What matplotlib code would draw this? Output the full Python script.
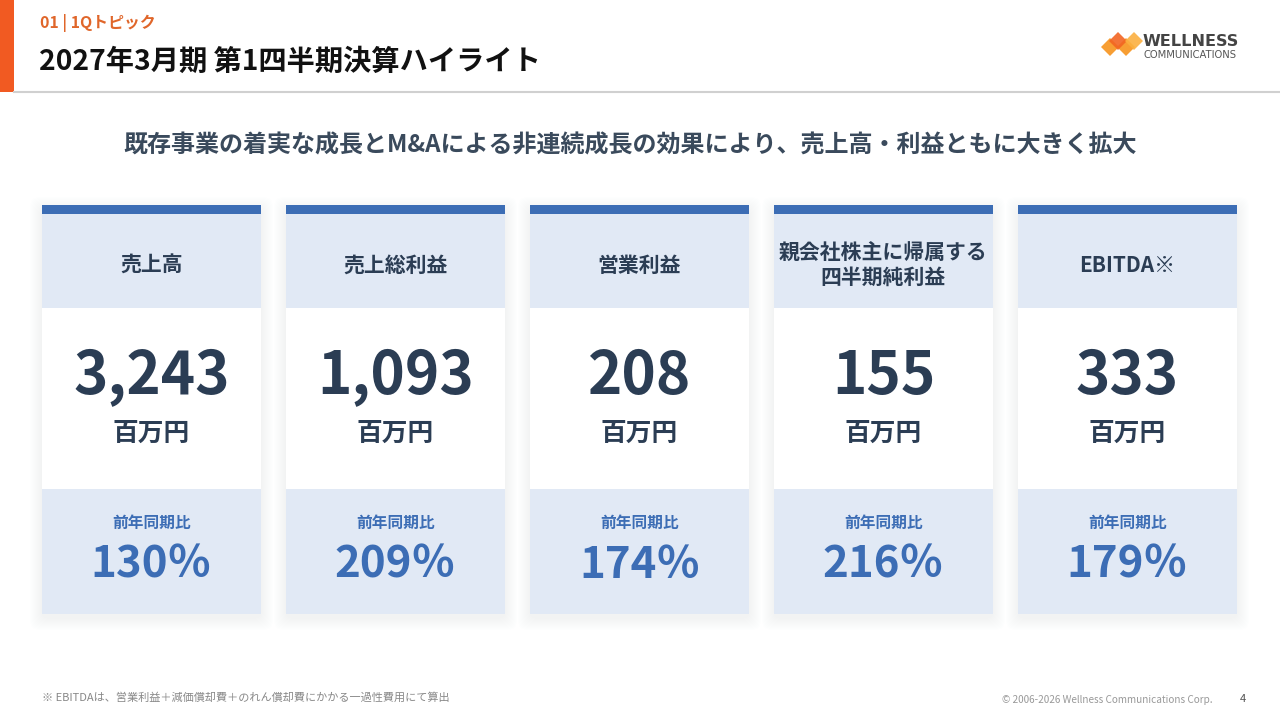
import matplotlib
matplotlib.use("Agg")
import matplotlib.pyplot as plt
import matplotlib.patches as mpatches

plt.rcParams['font.family'] = ['Noto Sans CJK JP', 'DejaVu Sans']

# data
section_label = "01 | 1Qトピック"
title = "2027年3月期 第1四半期決算ハイライト"
subtitle = "既存事業の着実な成長とM&Aによる非連続成長の効果により、売上高・利益ともに大きく拡大"
categories = ["売上高", "売上総利益", "営業利益", "親会社株主に帰属する\n四半期純利益", "EBITDA※"]
values = [3243, 1093, 208, 155, 333]
yoy_pct = [130, 209, 174, 216, 179]
unit = "百万円"
yoy_label = "前年同期比"
footnote = "※ EBITDAは、営業利益＋減価償却費＋のれん償却費にかかる一過性費用にて算出"
copyright_text = "© 2006-2026 Wellness Communications Corp."
page_no = "4"

NAVY = "#2b3d54"
BLUE = "#3c6db5"
LIGHT = "#e1e9f5"
ORANGE = "#f15a22"

fig = plt.figure(figsize=(12.8, 7.2), dpi=100)
ax = fig.add_axes([0, 0, 1, 1])
ax.set_xlim(0, 1280)
ax.set_ylim(720, 0)
ax.axis("off")

# header
ax.add_patch(mpatches.Rectangle((0, 0), 14, 92, color=ORANGE, lw=0))
ax.plot([14, 1280], [91.5, 91.5], color="#d0d0d0", lw=1.5)
ax.text(40, 23, section_label, fontsize=11.4, color="#e0662a", fontweight="bold", va="center")
ax.text(39, 62, title, fontsize=20.3, color="#111111", fontweight="bold", va="center")

# logo
for dx, dy, c in [(0, 0, "#f7941d"), (16, 0, "#f7941d"), (8, -6, "#f26522"), (24, -6, "#fbb040")]:
    cx, cy = 1110 + dx, 47 + dy
    ax.add_patch(mpatches.Polygon([(cx - 9, cy), (cx, cy - 9), (cx + 9, cy), (cx, cy + 9)],
                                  closed=True, color=c, alpha=0.9, lw=0))
ax.text(1143, 42, "WELLNESS", fontsize=11.6, color="#444444", fontweight="bold",
        family="DejaVu Sans", va="center")
ax.text(1143, 55, "COMMUNICATIONS", fontsize=7.2, color="#555555", family="DejaVu Sans", va="center")

ax.text(630, 146, subtitle, fontsize=17.3, color="#3a4a5c", fontweight="bold", ha="center", va="center")

# cards
x0, w, pitch = 42, 219, 244
top, bar_h, head_b, white_b, bottom = 205, 9, 308, 489, 614
for i, cat in enumerate(categories):
    x = x0 + i * pitch
    # soft shadow
    for k in range(12, 0, -1):
        ax.add_patch(mpatches.FancyBboxPatch((x - k, top - k + 4), w + 2 * k, bottom - top + 2 * k,
                                             boxstyle="round,pad=0,rounding_size=10",
                                             color="#a8b2c0", alpha=0.012, lw=0))
    ax.add_patch(mpatches.Rectangle((x, top + bar_h), w, head_b - top - bar_h, color=LIGHT, lw=0))
    ax.add_patch(mpatches.Rectangle((x, head_b), w, white_b - head_b, color="white", lw=0))
    ax.add_patch(mpatches.Rectangle((x, white_b), w, bottom - white_b, color=LIGHT, lw=0))
    ax.add_patch(mpatches.Rectangle((x, top), w, bar_h, color=BLUE, lw=0))
    cx = x + w / 2
    ax.text(cx, 265, cat, fontsize=15, color=NAVY, fontweight="bold", ha="center", va="center",
            linespacing=1.15)
    ax.text(cx, 377, f"{values[i]:,}", fontsize=42, color=NAVY, fontweight="bold",
            ha="center", va="center")
    ax.text(cx, 433, unit, fontsize=18.5, color=NAVY, fontweight="bold", ha="center", va="center")
    ax.text(cx, 523, yoy_label, fontsize=11.3, color=BLUE, fontweight="bold", ha="center", va="center")
    ax.text(cx, 565, f"{yoy_pct[i]}％", fontsize=31.5, color=BLUE, fontweight="bold",
            ha="center", va="center")

# footer
ax.text(42, 698, footnote, fontsize=8, color="#888888", va="center")
ax.text(1213, 700, copyright_text, fontsize=7.2, color="#999999", ha="right", va="center")
ax.text(1243, 699, page_no, fontsize=8, color="#555555", ha="center", va="center")

fig.savefig("out.png", dpi=100, facecolor="white")
